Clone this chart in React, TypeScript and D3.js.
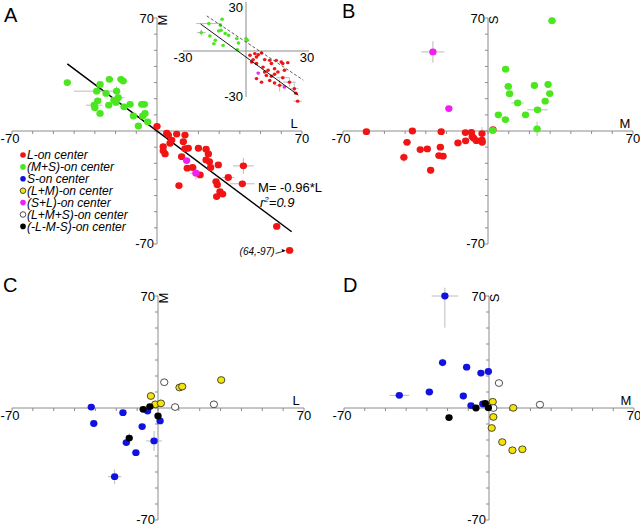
import React from 'react';
import * as d3 from 'd3';

type P = number[]; // [x, y, ex?, eyDown?, eyUp?]

// ---------- Panel A (L vs M) ----------
const aRed: P[] = [
  [0, 2.9], [4.7, -1.4], [5.5, -2.5], [9.5, -1.9], [13.5, -2.5], [3, -9.7], [3.9, -14.2], [3, -12.3],
  [7.1, -5.6], [6.3, -7.6], [12.7, -6.6], [13.5, -11], [15.1, -10.7], [20, -10.7], [23.7, -11.3],
  [24.8, -14.2], [23.7, -17.9], [25.3, -19], [11.9, -15.9], [14.6, -23], [17.2, -22.6], [20.8, -27.2],
  [25.9, -22.6], [29.6, -21], [28.5, -31.3], [29.1, -33.3], [34.4, -28.8, 3, 0], [41.7, -21.6, 5, 5],
  [41.2, -32.7, 6, 2], [30.4, -37.5], [31.7, -39.1], [28.8, -40.6], [10.6, -33.8], [57.8, -59.1],
  [64, -97, 2, 0],
];
const aMagenta: P[] = [[14.3, -18.3], [18.8, -26.1, 3, 4]];
const aGreen: P[] = [
  [-43.3, 30], [-27.5, 28.8], [-23, 32], [-17.4, 32], [-16.3, 30.9], [-29.1, 24.7, 11, 2], [-24.6, 23.3],
  [-19.5, 24.7, 0, 3], [-28.6, 18.7], [-30.3, 16, 4, 3], [-30, 14.4], [-23.3, 16], [-18.7, 20.6, 3, 3],
  [-20.8, 19.1], [-19.8, 17.7], [-15.9, 15, 2, 2], [-13, 16.5], [-7.4, 16.5], [-6.1, 16.5], [-27.5, 10.9],
  [-11.4, 9.3], [-6.9, 9.3], [-5.8, 10.9], [-4.5, 5.7], [-9, 3.1],
];
const regSlope = -0.96;
const regDomain = [-43.3, 65];

// inset (L vs M, +-30)
const insetRed: P[] = [
  [1.9, -2.8], [2.7, -7.2], [4.2, -1.7], [5, -3.9], [5.8, -2.4], [7.4, -1.3], [3.4, -5.6], [8.9, -5.6],
  [5, -8.2], [11.3, -6.1], [12.1, -8.2], [14.4, -6.1], [16.8, -7.2], [17.5, -8.2], [19.9, -7.6],
  [13.6, -11.5], [15.2, -13.7], [8.1, -10.5], [8.9, -13.7], [9.7, -15.9], [12.1, -16.5], [5, -18],
  [7.4, -20.3], [11.3, -19.2], [13.6, -20.9], [16, -22.4, 2, 4], [17.5, -17.4, 3, 0], [20.7, -20.3, 3, 3],
  [23, -24.6, 2, 4], [23.8, -27.5], [24.6, -32.7, 2, 0], [13.6, -15.2], [10.5, -12.6], [18.3, -12.6],
];
const insetMagenta: P[] = [[5.8, -14.4], [18.3, -23.5]];
const insetGreen: P[] = [
  [-17.7, 17.9, 6, 0], [-11.4, 20.7], [-12.2, 16.8], [-13, 13.1], [-21.3, 12, 2, 2], [-17.2, 9.8],
  [-9.9, 11.4], [-8.3, 10.3], [-14.6, 7], [-10.9, 3.7], [-4.4, 8.1], [-3.6, 5.2], [0, 8.1, 0, 2],
  [-4.1, 0.9], [-15.3, 4.8], [-11.9, 13.5], [0.6, 7],
];
const insetSolid: P[] = [[-21.6, 17.6], [24.9, -28.8]];
const insetDashed: P[] = [[-18.7, 22.9], [27.3, -19]];

// ---------- Panel B (M vs S) ----------
const bRed: P[] = [
  [-58.7, -0.4], [-39.1, -7, 2, 0], [-36.5, 0], [-40.6, -16.3, 0, 3], [-32.7, -11.5], [-29.3, -11.1],
  [-27.7, -24.3, 0, 2], [-23.7, -15.2], [-21.7, -15.6], [-23, -10], [-22.6, -0.4], [-14.5, -7.4, 2, 2],
  [-10.9, -1], [-10.8, -6.1], [-8, -0.8], [-7.6, -3.5], [-6.9, -4.5], [-5.6, -6], [-2.9, -1.6, 0, 4],
  [-2.9, -5.7], [-2.8, -7], [2.4, 0.9],
];
const bMagenta: P[] = [[-26.6, 49, 5.6, 6.7], [-18.9, 13.9]];
const bGreen: P[] = [
  [30.9, 68.3, 2, 2], [8.5, 38.3], [9.8, 27.6, 2, 2], [10.4, 23.1], [14.3, 17.4, 3, 1], [5, 10],
  [8.4, 7.1], [18.1, 10], [22.4, 28.2], [29, 28.8, 1, 2], [29.8, 23.2], [27.6, 18.5], [23.9, 13.1, 5, 0],
  [23.7, 1.3, 2, 4.5], [2.3, 0.3],
];

// ---------- Panel C (L vs M) ----------
const cBlue: P[] = [
  [-32, 0.6], [-30.8, -9.7], [-16.8, -2.9, 2, 0], [-7.6, -11.6], [-5, -1.9], [-15.2, -21.6],
  [-10.6, -27.9, 2, 0], [-1.9, -20.6, 3.8, 6.2], [1, -8.1], [-20.8, -42.9, 3.2, 4.6],
];
const cBlack: P[] = [[-7.1, -0.8], [-3.9, 0.9], [0, -5], [-13.8, -18.8, 0, 3]];
const cYellow: P[] = [[-3.4, 7.5], [-1.3, 2.3], [1.4, 2.9], [10.3, 12.8], [11.6, 13.4], [30.3, 17.5]];
const cWhite: P[] = [[3, 16.1], [8.2, 0.6], [26.8, 2.3]];

// ---------- Panel D (M vs S) ----------
const dBlue: P[] = [
  [-21.3, 70, 6.4, 19.8, 5.2], [-22.4, 28.4, 0, 2.5], [-10.8, 25.5], [-3.9, 21.8, 0, 2], [-0.3, 22.8],
  [-43.3, 7.9, 4.8, 0], [-28.8, 10, 2, 0], [-12.4, 7.5, 0, 2], [-8.7, 1.5], [-3, 2.5],
];
const dBlack: P[] = [[-6.3, 0], [-1.8, 2.9], [-0.3, 0.1], [-19.3, -6, 1.6, 2]];
const dYellow: P[] = [
  [1.8, 3.9], [11.7, 0.1], [2.1, -5.6], [1.3, -12.5, 0, 2], [6.4, -21.3], [11.3, -26.4], [16.1, -25.8, 2, 0],
];
const dWhite: P[] = [[4.8, 15.6], [2.1, 0], [24.6, 2.1]];

const legendLabels = [
  'L-on center', '(M+S)-on center', 'S-on center', '(L+M)-on center',
  '(S+L)-on center', '(L+M+S)-on center', '(-L-M-S)-on center',
];
const axisTicks = d3.range(-70, 71, 10);

const C = {
  red: '#f01414', green: '#4ae61e', blue: '#1212e0', yellow: '#f4e40c',
  magenta: '#f020f0', white: '#ffffff', black: '#000000',
};
const legendColors = [C.red, C.green, C.blue, C.yellow, C.magenta, C.white, C.black];
const outlined = new Set([C.yellow, C.white]);

const FONT = "'Liberation Sans', Arial, Helvetica, sans-serif";
const AXIS = '#8c8c8c';
const ERR = '#b4b4b4';

type Series = { data: P[]; color: string };

function Points({ series, x, y, r, floor }: { series: Series[]; x: any; y: any; r: number; floor?: number }) {
  const fy = (v: number) => y(floor !== undefined ? Math.max(v, floor) : v);
  return (
    <g>
      {series.map((s, si) =>
        s.data.map((d, i) => {
          const ex = d[2] || 0, eyD = d[3] || 0, eyU = d[4] !== undefined ? d[4] : eyD;
          return (
            <g key={`e${si}-${i}`} stroke={ERR} strokeWidth={0.9}>
              {ex > 0 && <line x1={x(d[0] - ex)} x2={x(d[0] + ex)} y1={fy(d[1])} y2={fy(d[1])} />}
              {(eyD > 0 || eyU > 0) && <line x1={x(d[0])} x2={x(d[0])} y1={y(d[1] - eyD)} y2={y(d[1] + eyU)} />}
            </g>
          );
        })
      )}
      {series.map((s, si) =>
        s.data.map((d, i) => (
          <ellipse key={`p${si}-${i}`} cx={x(d[0])} cy={fy(d[1])} rx={r * 1.08} ry={r}
            fill={s.color} stroke={outlined.has(s.color) ? '#222' : 'none'} strokeWidth={0.8} />
        ))
      )}
    </g>
  );
}

function Panel({ cx, cy, hx, hy, xLabel, yLabel, letter, lx, ly, series, children, floor }: any) {
  const x = d3.scaleLinear().domain([-70, 70]).range([cx - hx, cx + hx]);
  const y = d3.scaleLinear().domain([-70, 70]).range([cy + hy, cy - hy]);
  return (
    <g fontFamily={FONT}>
      <text x={lx} y={ly} fontSize={20} fill="#000">{letter}</text>
      <g stroke={AXIS} strokeWidth={1}>
        <line x1={x(-70)} x2={x(70)} y1={y(0)} y2={y(0)} />
        <line x1={x(0)} x2={x(0)} y1={y(70)} y2={y(-70)} />
        {axisTicks.map((t) => (
          <line key={'tx' + t} x1={x(t)} x2={x(t)} y1={y(0)} y2={y(0) + 3} />
        ))}
        {axisTicks.map((t) => (
          <line key={'ty' + t} x1={x(0) - 3} x2={x(0)} y1={y(t)} y2={y(t)} />
        ))}
      </g>
      <g fontSize={13} fill="#000">
        <text x={x(-70) - 2} y={y(0) + 12} textAnchor="middle">-70</text>
        <text x={x(70)} y={y(0) + 12} textAnchor="middle">70</text>
        <text x={x(0) - 3} y={y(70) + 5} textAnchor="end">70</text>
        <text x={x(0) - 3} y={y(-70) + 4} textAnchor="end">-70</text>
        <text x={x(70) - 8} y={y(0) - 3} textAnchor="middle">{xLabel}</text>
        <text transform={`translate(${x(0) + 10},${y(70) + 2}) rotate(-90)`} textAnchor="middle">{yLabel}</text>
      </g>
      {children && children(x, y)}
      <Points series={series} x={x} y={y} r={3.4} floor={floor} />
    </g>
  );
}

function Inset() {
  const x = d3.scaleLinear().domain([-30, 30]).range([183, 309]);
  const y = d3.scaleLinear().domain([-30, 30]).range([97, 5]);
  const line = d3.line<P>().x((d) => x(d[0])).y((d) => y(d[1]));
  return (
    <g fontFamily={FONT}>
      <g stroke={AXIS} strokeWidth={1}>
        <line x1={x(-30)} x2={x(30)} y1={y(0)} y2={y(0)} />
        <line x1={x(0)} x2={x(0)} y1={y(30) - 3} y2={y(-30)} />
      </g>
      <g fontSize={13} fill="#000">
        <text x={x(0) - 3} y={y(30) + 7} textAnchor="end">30</text>
        <text x={x(0) - 3} y={y(-30) + 4} textAnchor="end">-30</text>
        <text x={x(-30)} y={y(0) + 11} textAnchor="middle">-30</text>
        <text x={x(30) - 2} y={y(0) + 11} textAnchor="middle">30</text>
      </g>
      <Points series={[{ data: insetGreen, color: C.green }, { data: insetRed, color: C.red }, { data: insetMagenta, color: C.magenta }]}
        x={x} y={y} r={1.7} />
      <path d={line(insetSolid) || ''} stroke="#000" strokeWidth={0.9} fill="none" />
      <path d={line(insetDashed) || ''} stroke="#333" strokeWidth={0.8} strokeDasharray="3,2" fill="none" />
    </g>
  );
}

export default function App() {
  return (
    <svg width={640} height={527} style={{ position: 'absolute', left: 0, top: 0, background: '#fff' }}>
      <rect width={640} height={527} fill="#fff" />
      {/* Panel A */}
      <Panel cx={157} cy={131} hx={145} hy={113} xLabel="L" yLabel="M" letter="A" lx={4} ly={22} floor={-74}
        series={[{ data: aGreen, color: C.green }, { data: aRed, color: C.red }, { data: aMagenta, color: C.magenta }]}>
        {(x: any, y: any) => {
          const reg = regDomain.map((l) => [l, regSlope * l]);
          const out = aRed.find((d) => d[1] < -70)!;
          const px = x(out[0]), py = y(-74);
          return (
            <g>
              <path d={d3.line()(reg.map((d) => [x(d[0]), y(d[1])]) as any) || ''} stroke="#000" strokeWidth={1.5} fill="none" />
              <text x={258} y={192} fontSize={13}>M= -0.96*L</text>
              <text x={260} y={207} fontSize={13} fontStyle="italic">r<tspan dy={-5} fontSize={8}>2</tspan><tspan dy={5}>=0.9</tspan></text>
              <text x={px - 15} y={py + 5} fontSize={10} fontStyle="italic" textAnchor="end">(64,-97)</text>
              <line x1={px - 14} y1={py + 3} x2={px - 5} y2={py + 0.5} stroke="#000" strokeWidth={0.8} />
              <path d={`M${px - 4},${py} l-4,-1.5 l1,3 z`} fill="#000" />
            </g>
          );
        }}
      </Panel>
      <Inset />
      {/* legend */}
      <g fontFamily={FONT} fontSize={12} fontStyle="italic">
        {legendLabels.map((lab, i) => (
          <g key={lab} transform={`translate(23,${155 + i * 11.9})`}>
            <circle r={2.8} fill={legendColors[i]} stroke={outlined.has(legendColors[i]) ? '#222' : 'none'} strokeWidth={0.8} />
            <text x={4} dy="0.36em">{lab}</text>
          </g>
        ))}
      </g>
      {/* Panel B */}
      <Panel cx={488} cy={131} hx={145} hy={113} xLabel="M" yLabel="S" letter="B" lx={342} ly={18}
        series={[{ data: bRed, color: C.red }, { data: bGreen, color: C.green }, { data: bMagenta, color: C.magenta }]} />
      {/* Panel C */}
      <Panel cx={158} cy={408} hx={146} hy={112} xLabel="L" yLabel="M" letter="C" lx={3} ly={292}
        series={[{ data: cBlue, color: C.blue }, { data: cYellow, color: C.yellow }, { data: cWhite, color: C.white }, { data: cBlack, color: C.black }]} />
      {/* Panel D */}
      <Panel cx={489} cy={408} hx={145} hy={112} xLabel="M" yLabel="S" letter="D" lx={343} ly={292}
        series={[{ data: dBlue, color: C.blue }, { data: dYellow, color: C.yellow }, { data: dWhite, color: C.white }, { data: dBlack, color: C.black }]} />
    </svg>
  );
}
